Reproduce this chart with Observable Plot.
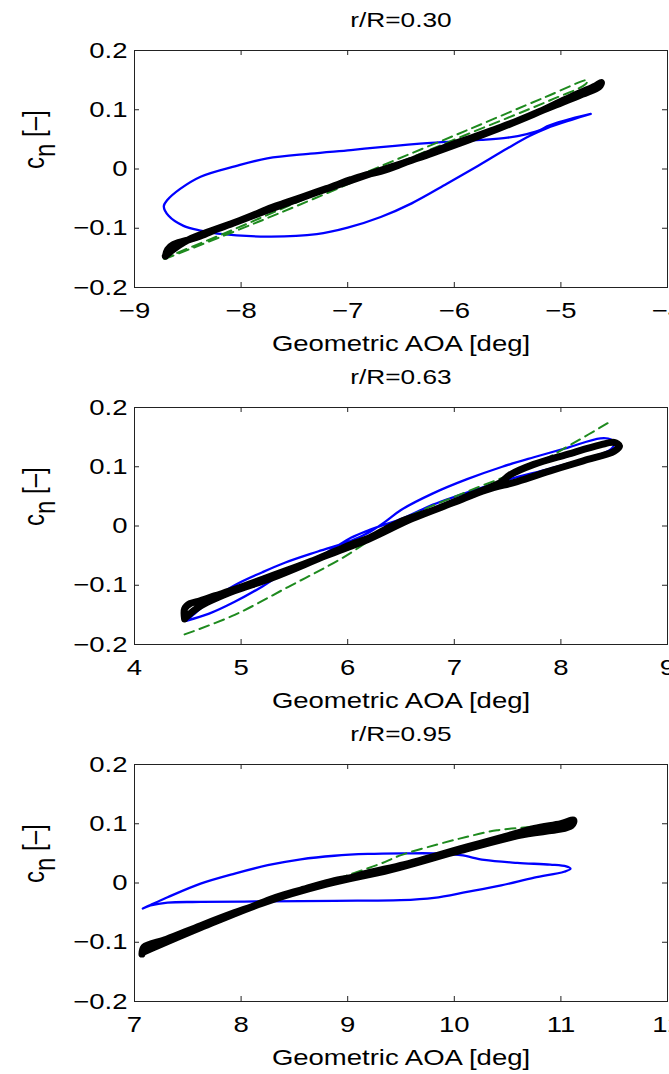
<!DOCTYPE html>
<html><head><meta charset="utf-8">
<script src="https://cdn.jsdelivr.net/npm/d3@7"></script>
<script src="https://cdn.jsdelivr.net/npm/@observablehq/plot@0.6"></script>
<style>
html,body{margin:0;padding:0;background:#fff;overflow:hidden;}
#chart svg{display:block;}
</style></head><body><div id="chart"></div>
<script>
// ---- labels / axes ----
const titles = ["r/R=0.30", "r/R=0.63", "r/R=0.95"];
const xDomains = [[-9, -4], [4, 9], [7, 12]];
const xTicks = [[-9, -8, -7, -6, -5, -4], [4, 5, 6, 7, 8, 9], [7, 8, 9, 10, 11, 12]];
const yDomain = [-0.2, 0.2];
const yTicks = [-0.2, -0.1, 0, 0.1, 0.2];
const xLabel = "Geometric AOA [deg]";
const yLabel = "cn [–]";

// ---- panel 1 (r/R=0.30) ----
const p1ExpAoa = [-8.71,-8.69,-8.64,-8.52,-8.38,-8.22,-8.07,-7.9,-7.755,-7.6,-7.44,-7.2,-6.97,-6.85,-6.69,-6.5,-6.3,-6.07,-5.85,-5.65,-5.44,-5.2,-5.0,-4.82,-4.68,-4.62,-4.64,-4.8,-5.1,-5.6,-6.2,-6.9,-7.5,-8.1,-8.5,-8.66,-8.71];
const p1ExpCn  = [-0.147,-0.136,-0.128,-0.121,-0.113,-0.101,-0.091,-0.079,-0.068,-0.058,-0.048,-0.033,-0.018,-0.011,-0.004,0.008,0.022,0.038,0.052,0.065,0.079,0.097,0.114,0.129,0.14,0.146,0.139,0.126,0.104,0.067,0.027,-0.015,-0.053,-0.093,-0.12,-0.139,-0.147];
const p1ModelAoa = [-4.72,-4.9,-5.04,-5.13,-5.19,-5.32,-5.5,-5.75,-6.22,-6.69,-6.97,-7.35,-7.755,-8.05,-8.38,-8.575,-8.69,-8.725,-8.68,-8.54,-8.38,-8.22,-7.755,-7.29,-7.0,-6.69,-6.4,-6.07,-5.8,-5.5,-5.29,-5.13,-4.9,-4.72];
const p1ModelCn  = [0.093,0.085,0.078,0.072,0.066,0.059,0.053,0.049,0.044,0.037,0.032,0.026,0.018,0.005,-0.013,-0.034,-0.052,-0.063,-0.079,-0.096,-0.104,-0.109,-0.114,-0.11,-0.099,-0.081,-0.058,-0.025,0.003,0.035,0.056,0.069,0.083,0.093];
const p1StatAoa = [-8.72,-8.07,-7.5,-6.7,-5.9,-5.1,-4.77,-4.75,-5.15,-5.9,-6.7,-7.5,-8.07,-8.7];
const p1StatCn  = [-0.152,-0.106,-0.064,-0.003,0.057,0.116,0.143,0.150,0.121,0.064,0.004,-0.058,-0.102,-0.149];

// ---- panel 2 (r/R=0.63) ----
const p2ExpAoa = [4.47,4.47,4.52,4.6,4.75,4.94,5.2,5.41,5.65,5.876,6.05,6.19,6.35,6.533,6.81,7.12,7.43,7.52,7.746,8.06,8.37,8.5,8.55,8.5,8.21,7.9,7.59,7.3,7.0,6.6,6.2,5.8,5.3,4.9,4.6,4.49];
const p2ExpCn  = [-0.157,-0.14,-0.131,-0.127,-0.118,-0.107,-0.09,-0.076,-0.06,-0.043,-0.03,-0.021,-0.006,0.01,0.027,0.05,0.073,0.086,0.104,0.121,0.137,0.141,0.135,0.126,0.11,0.093,0.075,0.061,0.04,0.012,-0.022,-0.05,-0.087,-0.112,-0.137,-0.153];
const p2ModelAoa = [4.485,4.55,4.7,4.94,5.2,5.41,5.72,6.03,6.19,6.35,6.5,6.8,7.12,7.45,7.746,8.06,8.37,8.47,8.5,8.45,8.31,7.9,7.52,7.21,6.8,6.53,6.2,6.03,5.8,5.41,5.2,4.94,4.7,4.485];
const p2ModelCn  = [-0.16,-0.15,-0.128,-0.1,-0.078,-0.062,-0.043,-0.025,-0.012,0.007,0.027,0.055,0.079,0.1,0.116,0.132,0.148,0.146,0.138,0.127,0.118,0.097,0.079,0.062,0.036,0.014,-0.007,-0.02,-0.045,-0.078,-0.102,-0.128,-0.148,-0.16];
const p2StatAoa = [4.47,4.94,5.44,5.94,6.53,7.12,7.746,8.1,8.48];
const p2StatCn  = [-0.183,-0.15,-0.103,-0.055,0.012,0.058,0.103,0.138,0.178];

// ---- panel 3 (r/R=0.95) ----
const p3ExpAoa = [7.07,7.09,7.3,7.62,7.94,8.1,8.25,8.4,8.56,8.875,9.0,9.19,9.53,9.81,10.12,10.43,10.75,11.0,11.12,11.1,10.6,10.0,9.4,8.8,8.2,7.6,7.08];
const p3ExpCn  = [-0.12,-0.108,-0.095,-0.072,-0.05,-0.04,-0.029,-0.02,-0.012,0.004,0.008,0.017,0.031,0.045,0.061,0.076,0.092,0.1,0.106,0.097,0.08,0.052,0.022,-0.002,-0.034,-0.077,-0.117];
const p3ModelAoa = [7.078,7.15,7.31,7.62,7.94,8.25,8.56,8.875,9.19,9.53,9.81,10.06,10.28,10.59,10.9,11.05,11.09,11.03,10.75,10.44,10.12,9.81,9.495,8.875,8.25,7.62,7.31,7.15,7.078];
const p3ModelCn  = [-0.043,-0.037,-0.024,-0.001,0.016,0.030,0.040,0.046,0.049,0.05,0.05,0.047,0.039,0.034,0.031,0.028,0.024,0.019,0.009,-0.004,-0.015,-0.025,-0.029,-0.03,-0.031,-0.032,-0.033,-0.038,-0.043];
const p3StatAoa = [7.07,7.85,8.5,9.03,9.3,9.5,9.84,10.12,10.4,10.68,10.84];
const p3StatCn  = [-0.115,-0.06,-0.018,0.015,0.032,0.047,0.065,0.078,0.089,0.094,0.098];

// ---- build ----
const zip = (xs, ys) => xs.map((a, i) => ({a, c: ys[i]}));
const panels = [
  {exp: zip(p1ExpAoa, p1ExpCn), model: zip(p1ModelAoa, p1ModelCn), stat: zip(p1StatAoa, p1StatCn)},
  {exp: zip(p2ExpAoa, p2ExpCn), model: zip(p2ModelAoa, p2ModelCn), stat: zip(p2StatAoa, p2StatCn)},
  {exp: zip(p3ExpAoa, p3ExpCn), model: zip(p3ModelAoa, p3ModelCn), stat: zip(p3StatAoa, p3StatCn)}
];
const fmtNum = d => (d < 0 ? "\u2212" : "") + Math.abs(d);

const W = 669, H = 357, MT = 50, MB = 70, ML = 134, MR = 2;
const innerH = H - MT - MB, innerW = W - ML - MR;
const SX = 1.25; // horizontal stretch of the reference's text
const frameColor = "#222";

function stretch(t, s) {
  const x = parseFloat(t.getAttribute("x")) || 0;
  const y = parseFloat(t.getAttribute("y")) || 0;
  const base = t.transform.baseVal.consolidate();
  const m = base ? base.matrix : {a:1,b:0,c:0,d:1,e:0,f:0};
  const ax = m.a * x + m.c * y + m.e, ay = m.b * x + m.d * y + m.f;
  const old = t.getAttribute("transform") || "";
  t.setAttribute("transform", `translate(${ax},${ay}) scale(${s},1) translate(${-ax},${-ay}) ${old}`);
}

const host = document.getElementById("chart");
panels.forEach((p, i) => {
  const svg = Plot.plot({
    width: W, height: H,
    marginTop: MT, marginBottom: MB, marginLeft: ML, marginRight: MR,
    style: {fontFamily: '"Liberation Sans", Arial, sans-serif', fontSize: "22px", background: "white", color: "#000"},
    x: {domain: xDomains[i], ticks: xTicks[i], tickFormat: fmtNum, tickSize: 0, tickPadding: 15, label: null},
    y: {domain: yDomain, ticks: yTicks, tickFormat: fmtNum, tickSize: 0, tickPadding: 7, label: null},
    marks: [
      Plot.line(p.model, {x: "a", y: "c", stroke: "#0000ff", strokeWidth: 2.3, curve: "catmull-rom"}),
      Plot.line(p.stat, {x: "a", y: "c", stroke: "#1e8a1e", strokeWidth: 2, strokeDasharray: "10,6", curve: "catmull-rom"}),
      Plot.line(p.exp, {x: "a", y: "c", stroke: "#000", strokeWidth: 7, strokeLinejoin: "round", strokeLinecap: "round", curve: "catmull-rom"}),
      Plot.frame({stroke: frameColor}),
      Plot.tickX(xTicks[i], {x: d => d, insetTop: innerH - 5, stroke: frameColor}),
      Plot.tickX(xTicks[i], {x: d => d, insetBottom: innerH - 5, stroke: frameColor}),
      Plot.tickY(yTicks, {y: d => d, insetRight: innerW - 5, stroke: frameColor}),
      Plot.tickY(yTicks, {y: d => d, insetLeft: innerW - 5, stroke: frameColor}),
      Plot.text([titles[i]], {text: d => d, frameAnchor: "top", dy: -30, fontSize: 21, lineAnchor: "middle"}),
      Plot.text([xLabel], {text: d => d, frameAnchor: "bottom", dy: 56, lineAnchor: "middle"}),
      Plot.text([yLabel], {text: d => d, frameAnchor: "left", dx: -100, rotate: -90, fontSize: 24, lineAnchor: "middle"})
    ]
  });
  host.appendChild(svg);
  const ns = "http://www.w3.org/2000/svg";
  svg.querySelectorAll("text").forEach(t => {
    if (t.textContent === yLabel) {
      t.textContent = "";
      const a = document.createElementNS(ns, "tspan"); a.textContent = "c";
      const b = document.createElementNS(ns, "tspan"); b.textContent = "n"; b.setAttribute("dy", "0.35em");
      const c = document.createElementNS(ns, "tspan"); c.textContent = " [–]"; c.setAttribute("dy", "-0.35em");
      t.appendChild(a); t.appendChild(b); t.appendChild(c);
    }
    stretch(t, SX);
  });
});
</script></body></html>
